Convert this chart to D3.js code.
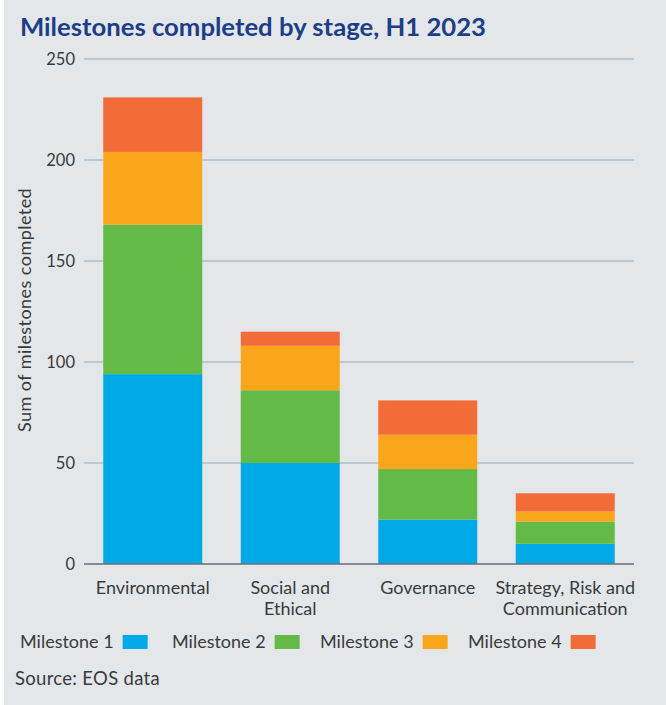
<!DOCTYPE html>
<html>
<head>
<script src="https://d3js.org/d3.v7.min.js"></script>
<style>
  html, body { margin: 0; padding: 0; background: #fff; }
  svg { display: block; }
  text { font-family: Lato, sans-serif; }
</style>
</head>
<body>
<div id="chart"></div>
<script>
const categories = [["Environmental"], ["Social and", "Ethical"], ["Governance"], ["Strategy, Risk and", "Communication"]];
const seriesNames = ["Milestone 1", "Milestone 2", "Milestone 3", "Milestone 4"];
const milestone1 = [94, 50, 22, 10];
const milestone2 = [74, 36, 25, 11];
const milestone3 = [36, 22, 17, 5];
const milestone4 = [27, 7, 17, 9];
const yTicks = [0, 50, 100, 150, 200, 250];
const colors = ["#00aae7", "#63ba47", "#faa61a", "#f26c37"];

const W = 666, H = 705;
const margin = { left: 84, right: 32, top: 59, bottom: 141 };

const rows = categories.map((c, i) => ({
  key: i,
  m1: milestone1[i], m2: milestone2[i], m3: milestone3[i], m4: milestone4[i]
}));

const svg = d3.select("#chart").append("svg")
  .attr("width", W).attr("height", H);

svg.append("rect").attr("x", 4).attr("y", 0)
  .attr("width", W - 4).attr("height", H).attr("fill", "#e3e7ea");

svg.append("text")
  .attr("x", 20).attr("y", 36)
  .attr("font-weight", "bold")
  .attr("font-size", 24.5)
  .attr("textLength", 466)
  .attr("lengthAdjust", "spacingAndGlyphs")
  .attr("fill", "#1e3d87")
  .text("Milestones completed by stage, H1 2023");

const x = d3.scaleBand()
  .domain(rows.map(d => d.key))
  .range([margin.left, W - margin.right])
  .paddingInner(0.28).paddingOuter(0.14);

const y = d3.scaleLinear()
  .domain([0, 250])
  .range([H - margin.bottom, margin.top]);

// gridlines
svg.append("g").selectAll("line")
  .data(yTicks.filter(t => t > 0))
  .join("line")
  .attr("x1", margin.left).attr("x2", W - margin.right)
  .attr("y1", d => y(d)).attr("y2", d => y(d))
  .attr("stroke", "#b2bec8").attr("stroke-width", 1.4);

// y axis labels
const yAxis = svg.append("g")
  .attr("transform", `translate(${margin.left},0)`)
  .call(d3.axisLeft(y).tickValues(yTicks).tickSize(0).tickPadding(9));
yAxis.select(".domain").remove();
yAxis.selectAll("text")
  .attr("font-family", "Lato, sans-serif")
  .attr("font-size", 16.5)
  .attr("fill", "#3a3a3a");

svg.append("text")
  .attr("transform", `translate(31,310) rotate(-90)`)
  .attr("text-anchor", "middle")
  .attr("font-size", 18)
  .attr("letter-spacing", 0.45)
  .attr("fill", "#3a3a3a")
  .text("Sum of milestones completed");

// stacked bars
const stack = d3.stack().keys(["m1", "m2", "m3", "m4"]);
const layers = stack(rows);

svg.append("g").selectAll("g")
  .data(layers)
  .join("g")
  .attr("fill", (d, i) => colors[i])
  .selectAll("rect")
  .data(d => d)
  .join("rect")
  .attr("x", d => x(d.data.key))
  .attr("width", x.bandwidth())
  .attr("y", d => y(d[1]))
  .attr("height", d => y(d[0]) - y(d[1]));

// baseline
svg.append("line")
  .attr("x1", margin.left).attr("x2", W - margin.right)
  .attr("y1", y(0)).attr("y2", y(0))
  .attr("stroke", "#6b6f73").attr("stroke-width", 1.6);

// x labels
const xl = svg.append("g").selectAll("text")
  .data(categories)
  .join("text")
  .attr("x", (d, i) => x(i) + x.bandwidth() / 2)
  .attr("y", 594)
  .attr("text-anchor", "middle")
  .attr("font-size", 18)
  .attr("fill", "#3a3a3a");
xl.selectAll("tspan")
  .data(d => d)
  .join("tspan")
  .attr("x", function () { return d3.select(this.parentNode).attr("x"); })
  .attr("dy", (d, i) => i === 0 ? 0 : 20.5)
  .text(d => d);

// legend
const legendX = [20, 172, 320, 468];
const lg = svg.append("g").selectAll("g")
  .data(seriesNames)
  .join("g")
  .attr("transform", (d, i) => `translate(${legendX[i]},0)`);
lg.append("text")
  .attr("x", 0).attr("y", 648)
  .attr("font-size", 18)
  .attr("fill", "#3a3a3a")
  .text(d => d);
lg.append("rect")
  .attr("x", function () {
    return this.parentNode.querySelector("text").getComputedTextLength() + 9;
  })
  .attr("y", 635)
  .attr("width", 25).attr("height", 14)
  .attr("fill", (d, i) => colors[i]);

svg.append("text")
  .attr("x", 15).attr("y", 685)
  .attr("font-size", 18.5)
  .attr("letter-spacing", 0.3)
  .attr("fill", "#3a3a3a")
  .text("Source: EOS data");
</script>
</body>
</html>
